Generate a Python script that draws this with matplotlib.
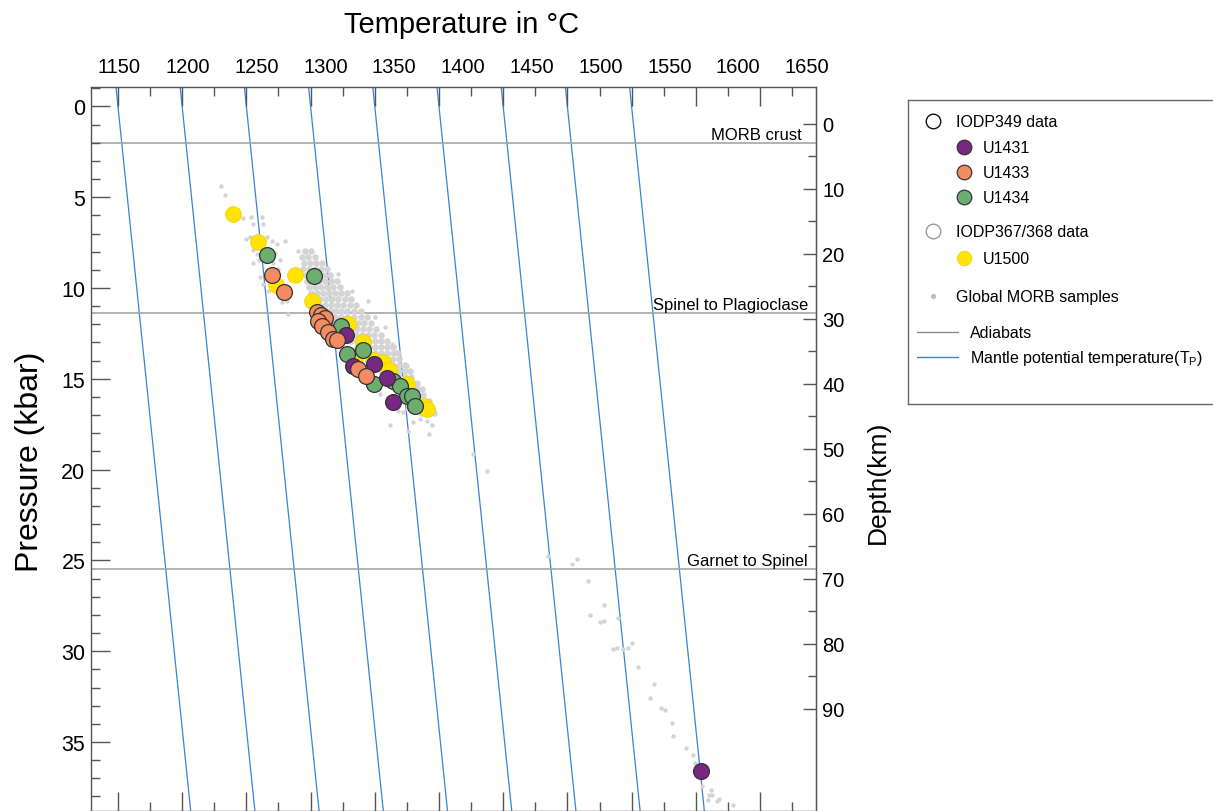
import numpy as np
import matplotlib
matplotlib.use('Agg')
import matplotlib.pyplot as plt
from matplotlib.ticker import MultipleLocator, FixedLocator, NullLocator
import matplotlib.transforms as mtransforms

plt.rcParams['font.family'] = ['Liberation Sans', 'DejaVu Sans']
plt.rcParams['mathtext.fontset'] = 'custom'
plt.rcParams['mathtext.rm'] = 'Liberation Sans'

# mantle potential temperature lines (T at P=0) and their slope in C per kbar
tp_values = [1150, 1200, 1250, 1300, 1350, 1400, 1450, 1500, 1550]
tp_slope = 1.46

# phase boundaries (kbar)
boundary_p = [2.0, 11.4, 25.5]
boundary_names = ["MORB crust", "Spinel to Plagioclase", "Garnet to Spinel"]

# IODP sites, temperature (C) and pressure (kbar)
u1431_t = [1310.4, 1327.6, 1332.8, 1349.4, 1359.3, 1363.9, 1603.8]
u1431_p = [11.79, 12.58, 14.30, 14.19, 14.96, 16.28, 36.60]

u1433_t = [1270.2, 1279.5, 1305.2, 1308.5, 1311.2, 1306.0, 1308.6, 1313.8, 1317.7, 1320.3, 1337.1, 1343.1]
u1433_p = [9.28, 10.23, 11.30, 11.46, 11.64, 11.82, 12.07, 12.43, 12.80, 12.89, 14.45, 14.87]

u1434_t = [1265.8, 1302.6, 1323.7, 1328.1, 1340.6, 1349.4, 1363.9, 1369.6, 1375.3, 1378.7, 1381.3]
u1434_p = [8.17, 9.35, 12.07, 13.62, 13.39, 15.29, 15.11, 15.37, 15.92, 15.92, 16.47]

u1500_t = [1239.3, 1259.3, 1273.1, 1287.9, 1301.1, 1329.4, 1340.6, 1335.4, 1348.9, 1356.6,
           1361.3, 1374.8, 1388.3, 1390.4]
u1500_p = [5.92, 7.44, 9.86, 9.31, 10.72, 11.97, 12.98, 13.77, 13.99, 14.05,
           14.54, 15.28, 16.50, 16.65]

# global MORB samples: dense band, row by row (pressure, temperatures)
morb_band = [
    (7.95, [1295.6, 1300.3]),
    (8.29, [1293.3, 1298.0, 1303.4]),
    (8.62, [1294.9, 1299.5, 1304.2, 1308.9]),
    (8.95, [1294.1, 1298.8, 1303.4, 1308.1, 1312.8]),
    (9.28, [1296.4, 1301.1, 1305.8, 1310.4, 1315.1]),
    (9.61, [1297.2, 1301.9, 1306.5, 1311.2, 1315.9, 1320.5]),
    (9.94, [1298.8, 1303.4, 1308.1, 1312.8, 1317.4, 1322.9]),
    (10.27, [1300.3, 1305.0, 1309.7, 1314.3, 1319.0, 1323.7, 1328.3]),
    (10.60, [1302.6, 1307.3, 1312.0, 1316.7, 1321.3, 1326.8, 1331.5]),
    (10.93, [1306.5, 1311.2, 1315.9, 1320.5, 1325.2, 1330.7, 1335.4]),
    (11.26, [1309.7, 1314.3, 1319.0, 1323.7, 1328.3, 1333.8, 1339.2]),
    (11.59, [1314.3, 1319.0, 1323.7, 1328.3, 1333.8, 1339.2, 1343.9]),
    (11.92, [1318.2, 1322.9, 1327.6, 1332.2, 1336.9, 1341.6, 1347.0]),
    (12.25, [1322.1, 1326.8, 1331.5, 1336.1, 1340.8, 1345.5, 1350.9]),
    (12.58, [1326.0, 1330.7, 1335.4, 1340.0, 1344.7, 1349.4, 1354.8]),
    (12.91, [1331.5, 1336.1, 1340.8, 1345.5, 1350.2, 1354.8, 1359.5]),
    (13.24, [1336.1, 1340.8, 1345.5, 1350.2, 1354.8, 1359.5, 1364.2]),
    (13.57, [1340.8, 1345.5, 1350.2, 1354.8, 1359.5, 1364.2, 1368.1]),
    (13.90, [1345.5, 1350.2, 1354.8, 1359.5, 1364.2, 1368.8]),
    (14.23, [1350.2, 1354.8, 1359.5, 1364.2, 1368.8, 1373.5]),
    (14.56, [1354.8, 1359.5, 1364.2, 1368.8, 1373.5, 1377.4]),
    (14.89, [1359.5, 1364.2, 1368.8, 1373.5, 1378.2]),
    (15.22, [1364.2, 1368.8, 1373.5, 1378.2, 1382.9]),
    (15.55, [1368.8, 1373.5, 1378.2, 1382.9, 1386.8]),
    (15.88, [1373.5, 1378.2, 1382.9, 1387.5]),
    (16.21, [1378.2, 1382.9, 1387.5, 1392.2]),
    (16.54, [1382.1, 1386.8, 1393.0]),
    (16.87, [1386.0, 1391.4, 1396.1]),
]

# global MORB samples: scattered ones
morb_t = [1230.2, 1233.3, 1247.1, 1253.3, 1255.4, 1261.9, 1263.2, 1249.7, 1252.8, 1265.8,
          1269.7, 1273.6, 1280.1, 1290.4, 1255.4, 1258.0, 1254.9, 1260.0, 1272.3, 1276.2,
          1270.9, 1274.8, 1260.6, 1263.2, 1267.1, 1277.5, 1281.4, 1282.6,
          1321.3, 1332.0, 1344.7, 1350.2, 1357.9, 1363.2, 1365.7, 1374.8, 1382.6, 1387.8,
          1393.0, 1385.2, 1361.8, 1374.8, 1335.9, 1354.0, 1368.1,
          1372.2, 1380.0, 1376.1, 1390.9, 1394.3, 1392.4, 1426.7, 1437.1,
          1485.1, 1507.7, 1503.8, 1516.3, 1528.5, 1517.6, 1539.2, 1525.4, 1528.5, 1535.3,
          1538.4, 1543.1, 1547.0, 1550.1, 1554.7, 1567.7, 1564.3, 1572.7, 1576.0, 1581.7,
          1582.5, 1592.1, 1598.0, 1599.4, 1605.1, 1611.8, 1610.5, 1612.8, 1616.3, 1609.7,
          1618.3, 1628.7]
morb_p = [4.39, 4.86, 6.14, 6.07, 6.47, 6.10, 6.47, 7.29, 7.17, 7.20,
          7.39, 7.57, 7.42, 7.94, 7.90, 8.12, 8.63, 8.45, 8.08, 8.45,
          8.63, 8.95, 9.40, 9.77, 10.14, 10.78, 10.69, 11.42,
          9.22, 10.14, 10.69, 11.59, 12.14, 13.07, 13.51, 14.27, 15.37, 15.92,
          16.83, 17.20, 17.57, 16.65, 14.67, 15.83, 16.76,
          16.83, 17.38, 17.85, 17.30, 17.53, 18.03, 19.13, 20.05,
          24.73, 24.91, 25.22, 26.14, 27.43, 27.98, 28.16, 28.39, 28.34, 29.86,
          29.83, 29.86, 29.83, 29.55, 30.87, 31.79, 32.58, 33.11, 33.22, 33.95,
          34.69, 35.31, 35.70, 36.14, 37.45, 37.63, 37.94, 37.90, 38.27, 38.22,
          38.12, 38.49]

top_labels = list(range(1150, 1651, 50))
depth_ticks = list(range(0, 91, 10))

c_purple = '#782882'
c_orange = '#F58B62'
c_green = '#6BAE70'
c_yellow = '#FFE400'
c_blue = '#3584d6'
c_line = '#a6a6a6'
c_morb = '#d4d4d4'
c_axis = '#555555'

band_t = []
band_p = []
for p, ts in morb_band:
    for t in ts:
        band_t.append(t)
        band_p.append(p)

fig = plt.figure(figsize=(12.13, 8.12), dpi=100)
ax = fig.add_axes([91 / 1213, 0, 725 / 1213, 724 / 812])
ax.set_xlim(1129.0, 1693.6)
ax.set_ylim(38.8, -1.07)

p_line = np.array([-3.0, 42.0])
for tp in tp_values:
    ax.plot(tp + tp_slope * p_line, p_line, color=c_blue, lw=0.9, zorder=1)

for p in boundary_p:
    ax.axhline(p, color=c_line, lw=1.2, zorder=1)

trans = mtransforms.blended_transform_factory(ax.transAxes, ax.transData)
label_x = [0.981, 0.989, 0.989]
for p, name, lx in zip(boundary_p, boundary_names, label_x):
    ax.annotate(name, xy=(lx, p), xycoords=trans, xytext=(0, 3), textcoords='offset points',
                ha='right', va='baseline', fontsize=12, zorder=5)

ax.scatter(band_t, band_p, s=22, c=c_morb, lw=0, zorder=2)
ax.scatter(morb_t, morb_p, s=10, c=c_morb, lw=0, zorder=2)

big = 130
ax.scatter(u1500_t, u1500_p, s=big, c=c_yellow, edgecolors='#eed200', linewidths=0.5, zorder=3)
ax.scatter(u1434_t, u1434_p, s=big, c=c_green, edgecolors='#333333', linewidths=0.9, zorder=4)
ax.scatter(u1431_t, u1431_p, s=big, c=c_purple, edgecolors='#333333', linewidths=0.9, zorder=5)
ax.scatter(u1433_t, u1433_p, s=big, c=c_orange, edgecolors='#333333', linewidths=0.9, zorder=6)

# axes styling
for s in ax.spines.values():
    s.set_color(c_axis)
    s.set_linewidth(1.0)

ax.xaxis.set_major_locator(MultipleLocator(50))
ax.xaxis.set_minor_locator(MultipleLocator(25))
ax.tick_params(axis='x', which='both', direction='in', top=True, bottom=True,
               labeltop=False, labelbottom=False, color=c_axis, width=1.0)
ax.tick_params(axis='x', which='major', length=13.7)
ax.tick_params(axis='x', which='minor', length=6.5)

ax.yaxis.set_major_locator(MultipleLocator(5))
ax.yaxis.set_minor_locator(MultipleLocator(1))
ax.tick_params(axis='y', which='both', direction='in', left=True, right=False,
               color=c_axis, width=1.0, labelsize=15.5, pad=4)
ax.tick_params(axis='y', which='major', length=13.7)
ax.tick_params(axis='y', which='minor', length=6.5)

# top labels (placed as in the original figure)
secx = ax.secondary_xaxis('top', functions=(lambda x: 1150 + (x - 1150.78) / 1.0717,
                                            lambda x: 1150.78 + 1.0717 * (x - 1150)))
secx.set_xticks(top_labels)
secx.xaxis.set_minor_locator(NullLocator())
secx.tick_params(length=0, pad=8, labelsize=14.5)
secx.spines['top'].set_visible(False)

# depth axis
secy = ax.secondary_yaxis('right', functions=(lambda p: 2.7948 * p - 2.692,
                                              lambda d: (d + 2.692) / 2.7948))
secy.yaxis.set_major_locator(FixedLocator(depth_ticks))
secy.yaxis.set_minor_locator(FixedLocator(list(range(5, 90, 10))))
secy.tick_params(which='both', direction='in', color=c_axis, width=1.0, labelsize=14.5, pad=4.5)
secy.tick_params(which='major', length=9.4)
secy.tick_params(which='minor', length=5.8)
secy.spines['right'].set_color(c_axis)

fig.text(462 / 1213, 1 - 25 / 812, "Temperature in °C", fontsize=21, ha='center', va='center')
fig.text(30 / 1213, 1 - 462 / 812, "Pressure (kbar)", fontsize=23, rotation=90, ha='center', va='center')
fig.text(878 / 1213, 1 - 482 / 812, "Depth(km)", fontsize=19, rotation=90, ha='center', va='center')

# legend box
lg = fig.add_axes([908 / 1213, 1 - 405 / 812, 320 / 1213, 304 / 812])
lg.set_xlim(908, 1228)
lg.set_ylim(405, 101)
lg.set_xticks([])
lg.set_yticks([])
for s in lg.spines.values():
    s.set_color('#666666')
    s.set_linewidth(1.0)

lg.scatter([933], [122], s=110, facecolors='white', edgecolors='#111111', linewidths=1.0)
lg.text(956, 122, "IODP349 data", fontsize=11.5, va='center')
for yy, col, name in [(148, c_purple, "U1431"), (173, c_orange, "U1433"), (198, c_green, "U1434")]:
    lg.scatter([964], [yy], s=110, c=col, edgecolors='#333333', linewidths=0.9)
    lg.text(983, yy, name, fontsize=11.5, va='center')
lg.scatter([933], [232], s=110, facecolors='white', edgecolors='#9a9a9a', linewidths=1.0)
lg.text(956, 232, "IODP367/368 data", fontsize=11.5, va='center')
lg.scatter([964], [259], s=110, c=c_yellow, edgecolors='#eed200', linewidths=0.5)
lg.text(983, 259, "U1500", fontsize=11.5, va='center')
lg.scatter([933], [297], s=14, c='#bdbdbd', lw=0)
lg.text(956, 297, "Global MORB samples", fontsize=11.5, va='center')
lg.plot([917, 958], [333, 333], color='#8a8a8a', lw=1.0)
lg.text(970, 333, "Adiabats", fontsize=11.5, va='center')
lg.plot([917, 958], [358, 358], color=c_blue, lw=1.0)
lg.text(970, 358, r"Mantle potential temperature(T$_{\rm P}$)", fontsize=11.5, va='center')

fig.savefig('out.png', dpi=100)
